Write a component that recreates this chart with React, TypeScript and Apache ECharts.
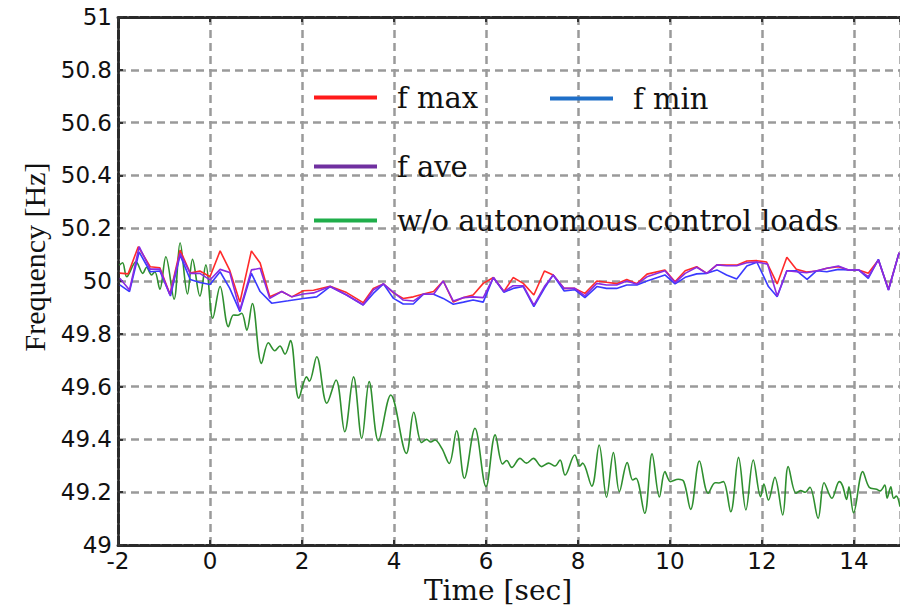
import React, { useEffect, useRef } from "react";
import * as echarts from "echarts";

// ---- data ----
const xTicks = [-2, 15];
const yRange = [49, 51];

const fMax: [number, number][] = [
  [-1.96, 50.03], [-1.78, 50.027], [-1.56, 50.13], [-1.3, 50.054], [-1.09, 50.05], [-0.87, 49.95],
  [-0.65, 50.117], [-0.43, 50.03], [-0.22, 50.038], [0, 50.016], [0.22, 50.114], [0.43, 50.04],
  [0.65, 49.92], [0.9, 50.114], [1.09, 50.068], [1.3, 49.94], [1.56, 49.96], [1.78, 49.94],
  [2.03, 49.963], [2.25, 49.965], [2.61, 49.98], [2.97, 49.956], [3.33, 49.918], [3.55, 49.972],
  [3.77, 49.989], [3.99, 49.955], [4.2, 49.934], [4.42, 49.94], [4.64, 49.951], [4.86, 49.96],
  [5.07, 50.0], [5.29, 49.92], [5.51, 49.937], [5.72, 49.947], [5.94, 49.991], [6.16, 50.013],
  [6.39, 49.96], [6.59, 50.013], [6.81, 49.991], [7.04, 49.947], [7.27, 50.038], [7.46, 50.023],
  [7.7, 49.972], [7.93, 49.972], [8.15, 49.953], [8.41, 50.0], [8.62, 49.995], [8.84, 49.99],
  [9.06, 50.006], [9.28, 49.99], [9.5, 50.026], [9.89, 50.042], [10.11, 49.997], [10.33, 50.039],
  [10.58, 50.054], [10.8, 50.029], [11.02, 50.061], [11.23, 50.06], [11.45, 50.06], [11.67, 50.076],
  [11.89, 50.077], [12.1, 50.072], [12.33, 49.989], [12.54, 50.09], [12.75, 50.044], [12.97, 50.034],
  [13.19, 50.038], [13.41, 50.048], [13.66, 50.054], [13.88, 50.042], [14.1, 50.042], [14.31, 50.029],
  [14.53, 50.08], [14.75, 49.969], [14.98, 50.107],
];

const fMin: [number, number][] = [
  [-1.96, 49.985], [-1.75, 49.96], [-1.54, 50.11], [-1.3, 50.035], [-1.09, 50.038], [-0.86, 49.943],
  [-0.65, 50.098], [-0.43, 50.006], [-0.22, 49.994], [0, 49.987], [0.22, 50.035], [0.43, 49.972],
  [0.65, 49.884], [0.9, 50.029], [1.09, 49.96], [1.34, 49.916], [1.7, 49.925], [2.03, 49.934],
  [2.32, 49.94], [2.61, 49.979], [2.97, 49.947], [3.33, 49.909], [3.55, 49.953], [3.77, 49.989],
  [3.99, 49.934], [4.2, 49.913], [4.42, 49.913], [4.64, 49.95], [4.86, 49.95], [5.07, 49.934],
  [5.29, 49.912], [5.51, 49.92], [5.72, 49.928], [5.94, 49.92], [6.16, 50.013], [6.39, 49.957],
  [6.59, 49.972], [6.81, 49.979], [7.04, 49.903], [7.27, 49.972], [7.46, 50.023], [7.7, 49.962],
  [7.93, 49.967], [8.15, 49.937], [8.41, 49.979], [8.62, 49.972], [8.84, 49.972], [9.06, 49.985],
  [9.28, 49.985], [9.5, 50.0], [9.89, 50.023], [10.11, 49.989], [10.33, 50.014], [10.58, 50.027],
  [10.8, 50.029], [11.02, 50.042], [11.23, 50.023], [11.45, 50.008], [11.67, 50.057], [11.89, 50.071],
  [12.14, 49.979], [12.33, 49.94], [12.54, 50.039], [12.75, 50.039], [12.98, 50.006], [13.19, 50.039],
  [13.41, 50.035], [13.66, 50.044], [13.88, 50.042], [14.1, 50.042], [14.31, 50.01], [14.53, 50.082],
  [14.75, 49.966], [14.98, 50.107],
];

const fAve: [number, number][] = [
  [-1.96, 50.01], [-1.75, 49.966], [-1.54, 50.13], [-1.3, 50.045], [-1.09, 50.045], [-0.87, 49.947],
  [-0.65, 50.105], [-0.43, 50.029], [-0.22, 50.029], [0, 50.004], [0.22, 50.044], [0.43, 50.032],
  [0.65, 49.89], [0.9, 50.042], [1.09, 50.048], [1.3, 49.934], [1.56, 49.96], [1.78, 49.94],
  [2.03, 49.951], [2.25, 49.955], [2.61, 49.979], [2.97, 49.947], [3.33, 49.91], [3.55, 49.966],
  [3.77, 49.989], [3.99, 49.957], [4.2, 49.928], [4.42, 49.924], [4.64, 49.95], [4.86, 49.95],
  [5.07, 50.0], [5.29, 49.924], [5.51, 49.937], [5.72, 49.94], [5.94, 49.937], [6.16, 50.013],
  [6.39, 49.96], [6.59, 49.982], [6.81, 49.982], [7.04, 49.909], [7.27, 49.979], [7.46, 50.023],
  [7.7, 49.972], [7.93, 49.972], [8.15, 49.944], [8.41, 49.991], [8.62, 49.985], [8.84, 49.985],
  [9.06, 50.0], [9.28, 49.988], [9.5, 50.016], [9.89, 50.039], [10.11, 49.994], [10.33, 50.029],
  [10.58, 50.052], [10.8, 50.029], [11.02, 50.061], [11.23, 50.058], [11.45, 50.058], [11.67, 50.069],
  [11.89, 50.072], [12.12, 50.064], [12.33, 49.943], [12.54, 50.039], [12.75, 50.035], [12.97, 50.031],
  [13.19, 50.039], [13.41, 50.048], [13.66, 50.057], [13.88, 50.042], [14.1, 50.042], [14.31, 50.016],
  [14.53, 50.08], [14.75, 49.966], [14.98, 50.107],
];

const fWithout: [number, number][] = [
  [-1.97, 50.06], [-1.9, 50.069], [-1.81, 50.016], [-1.61, 50.073], [-1.46, 50.029], [-1.38, 50.052],
  [-1.27, 50.023], [-1.2, 50.035], [-1.09, 49.969], [-0.96, 50.092], [-0.78, 49.931], [-0.65, 50.145],
  [-0.49, 49.951], [-0.38, 50.082], [-0.22, 49.943], [-0.09, 50.061], [0.06, 49.859], [0.22, 49.979],
  [0.4, 49.827], [0.51, 49.871], [0.6, 49.87], [0.69, 49.878], [0.8, 49.814], [0.92, 49.915],
  [1.12, 49.688], [1.27, 49.766], [1.41, 49.736], [1.52, 49.754], [1.63, 49.723], [1.75, 49.774],
  [1.93, 49.556], [2.1, 49.637], [2.16, 49.62], [2.32, 49.713], [2.54, 49.537], [2.74, 49.625],
  [2.93, 49.429], [3.12, 49.637], [3.3, 49.404], [3.46, 49.619], [3.66, 49.395], [3.93, 49.568],
  [4.27, 49.347], [4.43, 49.503], [4.6, 49.388], [4.71, 49.4], [4.8, 49.39], [4.89, 49.398],
  [5.04, 49.366], [5.2, 49.309], [5.36, 49.433], [5.53, 49.253], [5.76, 49.442], [6.0, 49.221],
  [6.2, 49.417], [6.36, 49.307], [6.45, 49.32], [6.56, 49.294], [6.74, 49.328], [6.88, 49.31],
  [7.03, 49.328], [7.21, 49.297], [7.36, 49.31], [7.5, 49.299], [7.61, 49.322], [7.72, 49.265],
  [7.93, 49.341], [8.04, 49.299], [8.1, 49.31], [8.3, 49.223], [8.46, 49.379], [8.62, 49.181],
  [8.77, 49.35], [8.9, 49.202], [9.07, 49.312], [9.19, 49.246], [9.26, 49.253], [9.45, 49.12],
  [9.61, 49.345], [9.77, 49.182], [9.89, 49.278], [10.01, 49.24], [10.18, 49.249], [10.3, 49.24],
  [10.45, 49.135], [10.64, 49.318], [10.83, 49.196], [10.98, 49.236], [11.06, 49.235], [11.16, 49.24],
  [11.32, 49.126], [11.49, 49.332], [11.65, 49.133], [11.81, 49.322], [11.97, 49.183], [12.04, 49.231],
  [12.14, 49.17], [12.28, 49.256], [12.45, 49.114], [12.57, 49.297], [12.74, 49.196], [12.84, 49.206],
  [12.94, 49.2], [13.04, 49.219], [13.22, 49.101], [13.35, 49.236], [13.52, 49.177], [13.68, 49.24],
  [13.75, 49.225], [13.84, 49.173], [13.89, 49.22], [13.99, 49.122], [14.19, 49.278], [14.33, 49.219],
  [14.49, 49.211], [14.57, 49.205], [14.67, 49.227], [14.72, 49.177], [14.8, 49.22], [14.86, 49.177],
  [14.92, 49.185], [15.0, 49.145],
];

const names = ["f max", "f min", "f ave", "w/o autonomous control loads"];

export default function App() {
  const ref = useRef<HTMLDivElement>(null);
  useEffect(() => {
    if (!ref.current) return;
    const chart = echarts.init(ref.current, null, { renderer: "svg" });
    const gridLine = { show: true, lineStyle: { color: "#9a9a9a", width: 2.5, type: [8, 5] as any } };
    const axisLineStyle = { color: "#2a2a2a", width: 3, type: [9, 2] as any };
    const legendText = { fontFamily: "DejaVu Serif", fontSize: 29, color: "#111", padding: [0, 0, 0, 15] };
    const mkLegend = (name: string, color: string, left: number, top: number) => ({
      left,
      top,
      orient: "horizontal",
      icon: "rect",
      itemWidth: 63,
      itemHeight: 4,
      selectedMode: false,
      data: [{ name, itemStyle: { color } }],
      textStyle: legendText,
    });
    chart.setOption({
      animation: false,
      backgroundColor: "#ffffff",
      grid: { left: 118, top: 17, right: 0, bottom: 65 },
      legend: [
        mkLegend(names[0], "#ff1a1a", 309, 78),
        mkLegend(names[1], "#1f6fc8", 545, 79),
        mkLegend(names[2], "#7030a0", 309, 147),
        mkLegend(names[3], "#1fae4a", 309, 201),
      ],
      xAxis: [
        {
          type: "value",
          min: xTicks[0],
          max: xTicks[1],
          interval: 2,
          position: "bottom",
          name: "Time [sec]",
          nameLocation: "middle",
          nameGap: 30,
          nameTextStyle: { fontFamily: "DejaVu Serif", fontSize: 28, color: "#111", padding: [0, 22, 0, 0] },
          axisLine: { show: true, onZero: false, lineStyle: axisLineStyle },
          axisTick: { show: true, inside: true, length: 5, lineStyle: { color: "#333", width: 2 } },
          axisLabel: { fontFamily: "DejaVu Sans", fontSize: 23, color: "#111", margin: 4, showMaxLabel: false },
          splitLine: gridLine,
        },
        {
          type: "value",
          min: xTicks[0],
          max: xTicks[1],
          interval: 2,
          position: "top",
          axisLine: { show: true, onZero: false, lineStyle: axisLineStyle },
          axisTick: { show: true, inside: true, length: 5, lineStyle: { color: "#333", width: 2 } },
          axisLabel: { show: false },
          splitLine: { show: false },
        },
      ],
      yAxis: {
        type: "value",
        min: yRange[0],
        max: yRange[1],
        interval: 0.2,
        name: "Frequency [Hz]",
        nameLocation: "middle",
        nameGap: 66,
        nameTextStyle: { fontFamily: "Liberation Serif", fontSize: 30, color: "#111", padding: [0, 0, 0, 48] },
        axisLine: { show: true, onZero: false, lineStyle: axisLineStyle },
        axisTick: { show: true, inside: true, length: 5, lineStyle: { color: "#333", width: 2 } },
        axisLabel: {
          fontFamily: "DejaVu Sans",
          fontSize: 23,
          color: "#111",
          margin: 6,
          formatter: (v: number) => String(Math.round(v * 10) / 10),
        },
        splitLine: gridLine,
      },
      series: [
        {
          name: names[3],
          type: "line",
          data: fWithout,
          smooth: 0.35,
          showSymbol: false,
          lineStyle: { color: "#2f8f2f", width: 1.6 },
          itemStyle: { color: "#2f8f2f" },
          z: 2,
        },
        {
          name: names[0],
          type: "line",
          data: fMax,
          showSymbol: false,
          lineStyle: { color: "#ff2a2a", width: 1.6 },
          itemStyle: { color: "#ff2a2a" },
          z: 3,
        },
        {
          name: names[1],
          type: "line",
          data: fMin,
          showSymbol: false,
          lineStyle: { color: "#3a3aff", width: 1.6 },
          itemStyle: { color: "#3a3aff" },
          z: 4,
        },
        {
          name: names[2],
          type: "line",
          data: fAve,
          showSymbol: false,
          lineStyle: { color: "#8a2be2", width: 1.6 },
          itemStyle: { color: "#8a2be2" },
          z: 5,
        },
      ],
    });
    return () => chart.dispose();
  }, []);
  return (
    <div
      ref={ref}
      style={{ position: "fixed", left: 0, top: 0, width: 900, height: 610, background: "#fff" }}
    />
  );
}
